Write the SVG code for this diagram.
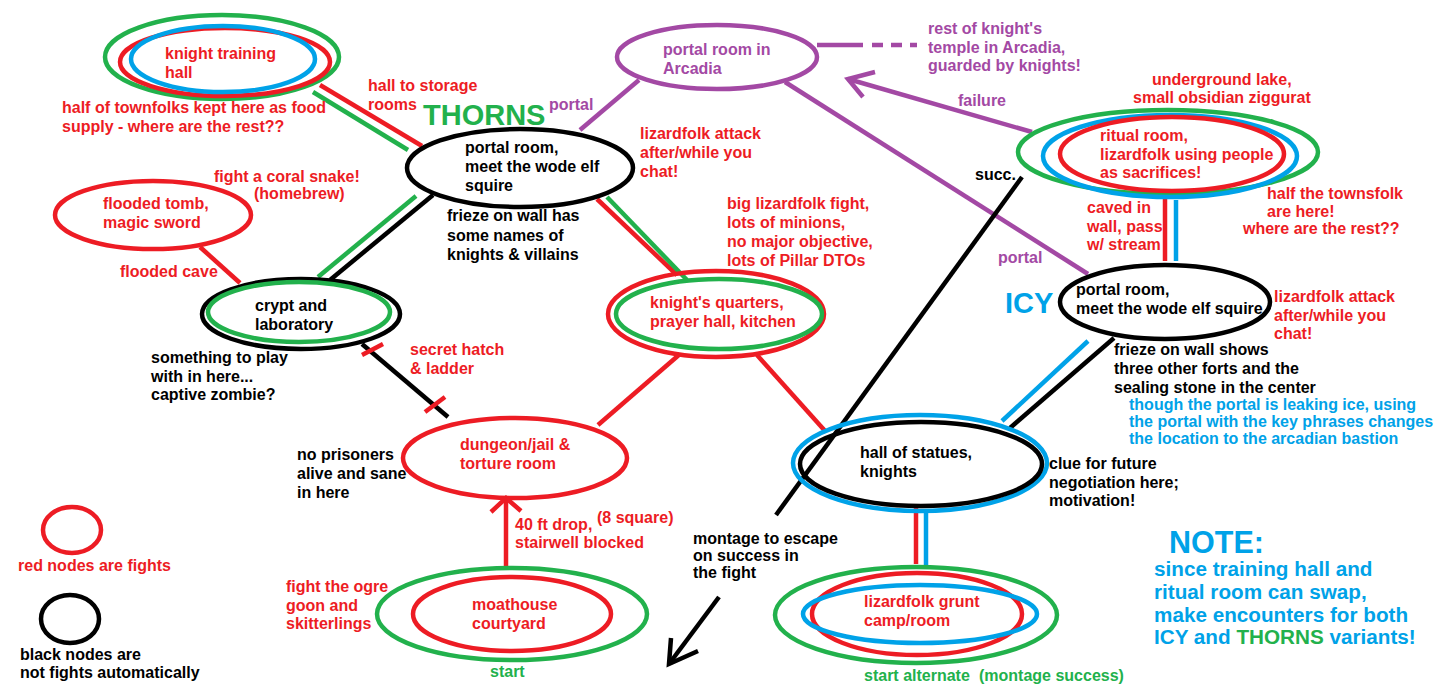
<svg xmlns="http://www.w3.org/2000/svg" width="1437" height="699" viewBox="0 0 1437 699">
<style>
text{font-family:"Liberation Sans",Arial,sans-serif;font-weight:bold;font-size:16px}
.r{fill:#ED1C24}.k{fill:#000}.g{fill:#22B14C}.b{fill:#00A2E8}.p{fill:#A349A4}
.big{font-size:29px}.note{font-size:20.7px}
ellipse{fill:none;stroke-width:4.5}
.er{stroke:#ED1C24}.ek{stroke:#000}.eg{stroke:#22B14C}.eb{stroke:#00A2E8}.ep{stroke:#A349A4}
line,path{fill:none;stroke-width:4.5}
.lr{stroke:#ED1C24}.lk{stroke:#000}.lg{stroke:#22B14C}.lb{stroke:#00A2E8}.lp{stroke:#A349A4}
</style>
<rect width="1437" height="699" fill="#fff"/>
<g id="connectors">
<line class="lr" x1="320" y1="85" x2="422" y2="146"/>
<line class="lg" x1="313" y1="92" x2="408" y2="150"/>
<line class="lr" x1="200" y1="247" x2="240" y2="283"/>
<line class="lk" x1="330" y1="280" x2="433" y2="195"/>
<line class="lg" x1="318" y1="277" x2="416" y2="196"/>
<line class="lk" x1="362" y1="344" x2="448" y2="417"/>
<line class="lr" x1="362" y1="355" x2="383" y2="344" stroke-width="4"/>
<line class="lr" x1="425" y1="412" x2="445" y2="397" stroke-width="4"/>
<line class="lr" x1="597" y1="199" x2="677" y2="275"/>
<line class="lg" x1="607" y1="197" x2="687" y2="280"/>
<line class="lr" x1="680" y1="354" x2="598" y2="425"/>
<line class="lr" x1="757" y1="355" x2="826" y2="432"/>
<line class="lp" x1="639" y1="80" x2="580" y2="130"/>
<line class="lp" x1="785" y1="82" x2="1088" y2="274"/>
<line class="lp" x1="817" y1="45" x2="863" y2="45" stroke-width="5"/>
<line class="lp" x1="872" y1="45" x2="917" y2="45" stroke-width="5" stroke-dasharray="11,8"/>
<line class="lp" x1="1032" y1="132" x2="848" y2="79"/>
<path class="lp" d="M875,72 L848,79 L863,97"/>
<line class="lk" x1="1022" y1="177" x2="776" y2="515"/>
<line class="lk" x1="719" y1="597" x2="669" y2="664"/>
<path class="lk" d="M671,638 L669,664 L698,651"/>
<line class="lr" x1="1165" y1="198" x2="1165" y2="261"/>
<line class="lb" x1="1176" y1="200" x2="1176" y2="261"/>
<line class="lk" x1="1114" y1="338" x2="1010" y2="428"/>
<line class="lb" x1="1088" y1="341" x2="1002" y2="421"/>
<line class="lr" x1="916" y1="507" x2="916" y2="564"/>
<line class="lb" x1="926" y1="511" x2="926" y2="566"/>
<line class="lr" x1="506" y1="568" x2="506" y2="499"/>
<path class="lr" d="M491,512 L506,498 L521,511"/>
</g>
<g id="knight-training-hall">
<ellipse class="eg" cx="222" cy="57" rx="117" ry="42"/>
<ellipse class="er" cx="225" cy="62" rx="105" ry="34"/>
<ellipse class="eb" cx="223" cy="59" rx="92" ry="33"/>
<text class="r"><tspan x="165" y="59">knight training</tspan><tspan x="165" y="78">hall</tspan></text>
</g>
<g id="thorns-portal-room">
<ellipse class="ek" cx="520" cy="168" rx="113" ry="39"/>
<text class="k"><tspan x="465" y="153">portal room,</tspan><tspan x="465" y="172">meet the wode elf</tspan><tspan x="465" y="191">squire</tspan></text>
</g>
<g id="flooded-tomb">
<ellipse class="er" cx="153" cy="215" rx="98" ry="34"/>
<text class="r"><tspan x="103" y="209">flooded tomb,</tspan><tspan x="103" y="228">magic sword</tspan></text>
</g>
<g id="crypt">
<ellipse class="ek" cx="301" cy="314" rx="99" ry="35"/>
<ellipse class="eg" cx="299" cy="312" rx="91" ry="30"/>
<text class="k"><tspan x="255" y="311">crypt and</tspan><tspan x="255" y="330">laboratory</tspan></text>
</g>
<g id="knights-quarters">
<ellipse class="er" cx="716" cy="314" rx="108" ry="43"/>
<ellipse class="eg" cx="719" cy="314" rx="103" ry="35"/>
<text class="r"><tspan x="650" y="308">knight's quarters,</tspan><tspan x="650" y="327">prayer hall, kitchen</tspan></text>
</g>
<g id="dungeon">
<ellipse class="er" cx="515" cy="458" rx="112" ry="40"/>
<text class="r"><tspan x="460" y="450">dungeon/jail &amp;</tspan><tspan x="460" y="469">torture room</tspan></text>
</g>
<g id="portal-arcadia">
<ellipse class="ep" cx="717" cy="57" rx="100" ry="32"/>
<text class="p"><tspan x="663" y="55">portal room in</tspan><tspan x="663" y="74">Arcadia</tspan></text>
</g>
<g id="ritual-room">
<ellipse class="eg" cx="1168" cy="152" rx="150" ry="42"/>
<ellipse class="eb" cx="1170" cy="156" rx="127" ry="41"/>
<ellipse class="er" cx="1172" cy="154" rx="112" ry="37"/>
<text class="r"><tspan x="1100" y="141">ritual room,</tspan><tspan x="1100" y="160">lizardfolk using people</tspan><tspan x="1100" y="178">as sacrifices!</tspan></text>
</g>
<g id="icy-portal-room">
<ellipse class="ek" cx="1165" cy="302" rx="105" ry="37"/>
<text class="k"><tspan x="1076" y="295">portal room,</tspan><tspan x="1076" y="314">meet the wode elf squire</tspan></text>
</g>
<g id="hall-of-statues">
<ellipse class="eb" cx="920" cy="463" rx="127" ry="48"/>
<ellipse class="ek" cx="921" cy="464" rx="121" ry="42"/>
<text class="k"><tspan x="860" y="458">hall of statues,</tspan><tspan x="860" y="477">knights</tspan></text>
</g>
<g id="lizardfolk-camp">
<ellipse class="eg" cx="916" cy="615" rx="141" ry="48"/>
<ellipse class="er" cx="917" cy="614" rx="105" ry="41"/>
<ellipse class="eb" cx="920" cy="614" rx="117" ry="29"/>
<text class="r"><tspan x="864" y="607">lizardfolk grunt</tspan><tspan x="864" y="626">camp/room</tspan></text>
</g>
<g id="moathouse">
<ellipse class="eg" cx="512" cy="614" rx="135" ry="46"/>
<ellipse class="er" cx="512" cy="614" rx="99" ry="37"/>
<text class="r"><tspan x="472" y="610">moathouse</tspan><tspan x="472" y="629">courtyard</tspan></text>
</g>
<g id="legend">
<ellipse class="er" cx="72" cy="530" rx="29" ry="23" stroke-width="4"/>
<text class="r" x="18" y="571">red nodes are fights</text>
<ellipse class="ek" cx="70" cy="619" rx="29" ry="24" stroke-width="4"/>
<text class="k"><tspan x="20" y="660">black nodes are</tspan><tspan x="20" y="678">not fights automatically</tspan></text>
</g>
<g id="labels">
<text class="r"><tspan x="368" y="91">hall to storage</tspan><tspan x="368" y="110">rooms</tspan></text>
<text class="r"><tspan x="62" y="113">half of townfolks kept here as food</tspan><tspan x="62" y="132">supply - where are the rest??</tspan></text>
<text class="g big" x="423" y="125">THORNS</text>
<text class="p" x="549" y="110">portal</text>
<text class="r"><tspan x="214" y="182">fight a coral snake!</tspan><tspan x="254" y="199">(homebrew)</tspan></text>
<text class="r" x="120" y="277">flooded cave</text>
<text class="k"><tspan x="447" y="221">frieze on wall has</tspan><tspan x="447" y="241">some names of</tspan><tspan x="447" y="260">knights &amp; villains</tspan></text>
<text class="k"><tspan x="151" y="363">something to play</tspan><tspan x="151" y="382">with in here...</tspan><tspan x="151" y="400">captive zombie?</tspan></text>
<text class="r"><tspan x="410" y="355">secret hatch</tspan><tspan x="410" y="374">&amp; ladder</tspan></text>
<text class="k"><tspan x="297" y="460">no prisoners</tspan><tspan x="297" y="479">alive and sane</tspan><tspan x="297" y="498">in here</tspan></text>
<text class="r"><tspan x="640" y="139">lizardfolk attack</tspan><tspan x="640" y="158">after/while you</tspan><tspan x="640" y="177">chat!</tspan></text>
<text class="r"><tspan x="727" y="209">big lizardfolk fight,</tspan><tspan x="727" y="228">lots of minions,</tspan><tspan x="727" y="247">no major objective,</tspan><tspan x="727" y="266">lots of Pillar DTOs</tspan></text>
<text class="p"><tspan x="928" y="34">rest of knight's</tspan><tspan x="928" y="53">temple in Arcadia,</tspan><tspan x="928" y="71">guarded by knights!</tspan></text>
<text class="p" x="958" y="106">failure</text>
<text class="k" x="975" y="180">succ.</text>
<text class="r"><tspan x="1152" y="85">underground lake,</tspan><tspan x="1133" y="103">small obsidian ziggurat</tspan></text>
<text class="r"><tspan x="1267" y="199">half the townsfolk</tspan><tspan x="1267" y="217">are here!</tspan><tspan x="1243" y="234">where are the rest??</tspan></text>
<text class="r"><tspan x="1087" y="213">caved in</tspan><tspan x="1087" y="232">wall, pass</tspan><tspan x="1087" y="250">w/ stream</tspan></text>
<text class="p" x="998" y="263">portal</text>
<text class="b big" x="1005" y="313">ICY</text>
<text class="r"><tspan x="1274" y="302">lizardfolk attack</tspan><tspan x="1274" y="321">after/while you</tspan><tspan x="1274" y="339">chat!</tspan></text>
<text class="k"><tspan x="1114" y="355">frieze on wall shows</tspan><tspan x="1114" y="374">three other forts and the</tspan><tspan x="1114" y="393">sealing stone in the center</tspan></text>
<text class="b"><tspan x="1129" y="410">though the portal is leaking ice, using</tspan><tspan x="1129" y="427">the portal with the key phrases changes</tspan><tspan x="1129" y="444">the location to the arcadian bastion</tspan></text>
<text class="k"><tspan x="1049" y="469">clue for future</tspan><tspan x="1049" y="488">negotiation here;</tspan><tspan x="1049" y="506">motivation!</tspan></text>
<text class="k"><tspan x="693" y="544">montage to escape</tspan><tspan x="693" y="561">on success in</tspan><tspan x="693" y="578">the fight</tspan></text>
<text class="r"><tspan x="515" y="530">40 ft drop,</tspan><tspan x="515" y="548">stairwell blocked</tspan></text>
<text class="r" x="597" y="523">(8 square)</text>
<text class="r"><tspan x="286" y="592">fight the ogre</tspan><tspan x="286" y="611">goon and</tspan><tspan x="286" y="629">skitterlings</tspan></text>
<text class="g" x="490" y="677">start</text>
<text class="g"><tspan x="864" y="681">start alternate</tspan><tspan x="979" y="681">(montage success)</tspan></text>
<text class="b" x="1169" y="553" style="font-size:30.5px">NOTE:</text>
<text class="b note"><tspan x="1154" y="576">since training hall and</tspan><tspan x="1154" y="599">ritual room can swap,</tspan><tspan x="1154" y="622">make encounters for both</tspan><tspan x="1154" y="644">ICY and <tspan class="g">THORNS</tspan> variants!</tspan></text>
</g>
</svg>
